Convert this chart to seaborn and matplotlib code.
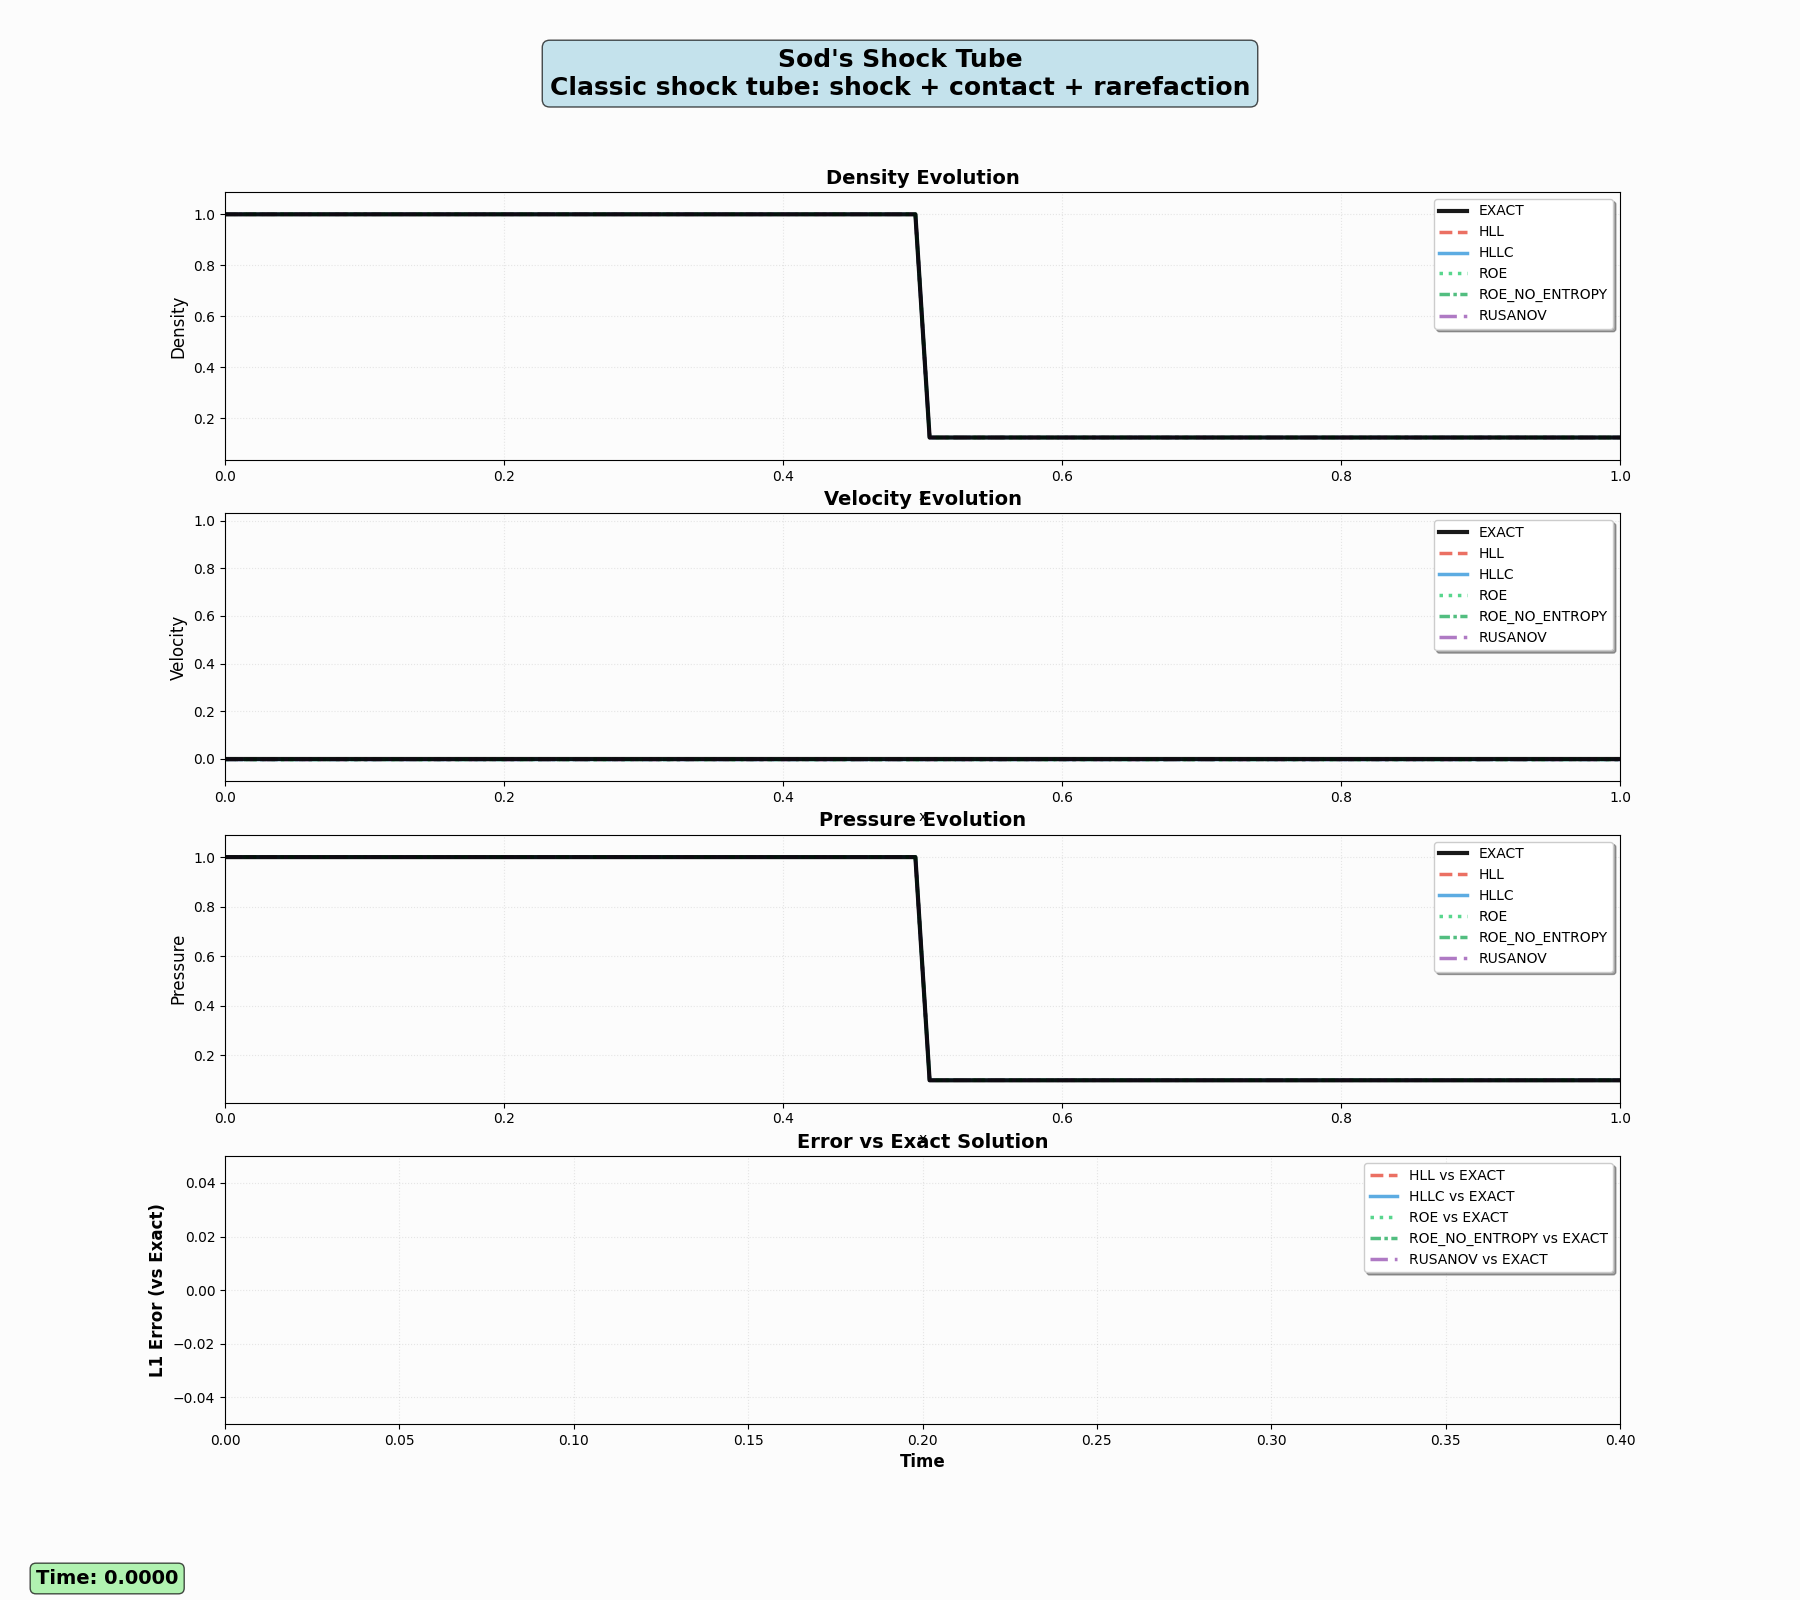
import numpy as np
import matplotlib
matplotlib.use("Agg")
import matplotlib.pyplot as plt
import seaborn as sns

# initial state (t = 0): left/right states with the jump near x = 0.5
x_pts = [0.0, 0.4949, 0.5051, 1.0]
density = [1.0, 1.0, 0.125, 0.125]
velocity = [0.0, 0.0, 0.0, 0.0]
pressure = [1.0, 1.0, 0.1, 0.1]

solvers = ["HLL", "HLLC", "ROE", "ROE_NO_ENTROPY", "RUSANOV"]
solver_colors = ["#e74c3c", "#3498db", "#2ecc71", "#27ae60", "#9b59b6"]
solver_styles = ["--", "-", ":", (0, (3, 1, 1, 1)), (0, (5, 2, 1, 2))]

# error history (only the first frame so far)
err_time = [0.0]
err_values = [0.0]

current_time = 0.0

bg = "#fcfcfc"
plt.rcParams["font.family"] = ["DejaVu Sans"]
plt.rcParams["axes.facecolor"] = bg
plt.rcParams["figure.facecolor"] = bg

fig, axes = plt.subplots(4, 1, figsize=(18, 16), dpi=100)

panels = [
    ("Density", density, (0.0375, 1.0875)),
    ("Velocity", velocity, (-0.094, 1.031)),
    ("Pressure", pressure, (0.01, 1.09)),
]

for ax, (name, vals, ylim) in zip(axes[:3], panels):
    # numerical solutions all equal the initial condition at t = 0
    for s, c, ls in zip(solvers, solver_colors, solver_styles):
        sns.lineplot(x=x_pts, y=vals, ax=ax, color=c, linestyle=ls,
                     linewidth=2.5, alpha=0.8, label=s, zorder=2)
    sns.lineplot(x=x_pts, y=vals, ax=ax, color="black", linewidth=3,
                 alpha=0.9, label="EXACT", zorder=3)
    handles, labels = ax.get_legend_handles_labels()
    order = [labels.index("EXACT")] + [labels.index(s) for s in solvers]
    ax.legend([handles[i] for i in order], [labels[i] for i in order],
              loc="upper right", shadow=True, fancybox=True,
              framealpha=1.0, facecolor="white")
    ax.set_xlim(0, 1)
    ax.set_ylim(*ylim)
    ax.set_xlabel("x")
    ax.set_ylabel(name, fontsize=12)
    ax.set_title(f"{name} Evolution", fontsize=14, fontweight="bold")
    ax.grid(True, linestyle=":", alpha=0.3)

ax = axes[3]
for s, c, ls in zip(solvers, solver_colors, solver_styles):
    sns.lineplot(x=err_time, y=err_values, ax=ax, color=c, linestyle=ls,
                 linewidth=2.5, alpha=0.8, label=f"{s} vs EXACT")
ax.legend(loc="upper right", shadow=True, fancybox=True,
          framealpha=1.0, facecolor="white")
ax.set_xlim(0, 0.4)
ax.set_ylim(-0.05, 0.05)
ax.set_xlabel("Time", fontsize=12, fontweight="bold")
ax.set_ylabel("L1 Error (vs Exact)", fontsize=12, fontweight="bold")
ax.set_title("Error vs Exact Solution", fontsize=14, fontweight="bold")
ax.grid(True, linestyle=":", alpha=0.3)

fig.suptitle("Sod's Shock Tube\nClassic shock tube: shock + contact + rarefaction",
             fontsize=18, fontweight="bold", y=0.954, va="center",
             bbox=dict(boxstyle="round", facecolor="lightblue", alpha=0.7))
fig.text(0.02, 0.01, f"Time: {current_time:.4f}", fontsize=14, fontweight="bold",
         bbox=dict(boxstyle="round", facecolor="lightgreen", alpha=0.7))

plt.savefig("out.png", facecolor=bg)
